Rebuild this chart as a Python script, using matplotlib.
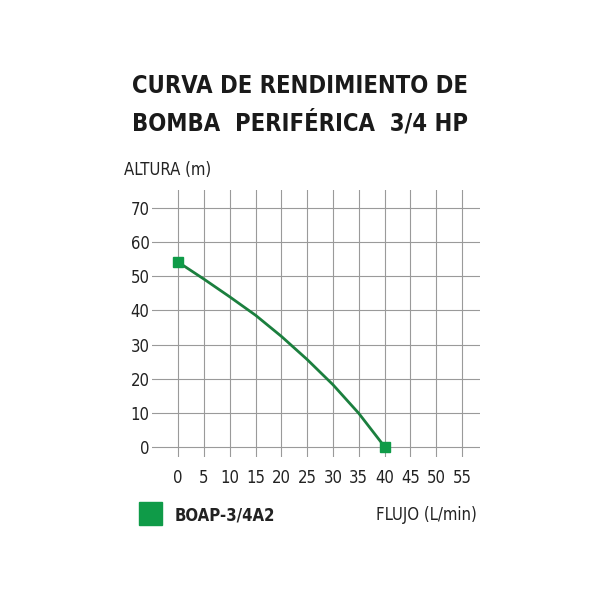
import matplotlib
matplotlib.use("Agg")
import matplotlib.pyplot as plt

# curve: flow (L/min) vs head (m)
flujo = [0, 5, 10, 15, 20, 25, 30, 35, 40]
altura = [54.2, 49.2, 44.0, 38.6, 32.4, 25.6, 18.2, 9.8, 0]
marca_x = [0, 40]
marca_y = [54.2, 0]

x_ticks = list(range(0, 60, 5))
y_ticks = list(range(0, 80, 10))

titulo = "CURVA DE RENDIMIENTO DE\nBOMBA  PERIFÉRICA  3/4 HP"
modelo = "BOAP-3/4A2"

fam = "DejaVu Sans"
verde = "#0f9b48"
linea = "#1b7f3e"

fig = plt.figure(figsize=(6, 6), dpi=100)
ax = fig.add_axes([0.254, 0.2385, 0.546, 0.4455])
ax.set_xlim(-5, 58.5)
ax.set_ylim(-3, 75.5)
ax.set_xticks(x_ticks)
ax.set_yticks(y_ticks)
ax.grid(True, color="#9a9a9a", linewidth=0.8)
ax.tick_params(length=0)
ax.tick_params(axis="y", pad=2)
ax.tick_params(axis="x", pad=9)
for lab in ax.get_xticklabels() + ax.get_yticklabels():
    lab.set_family(fam)
    lab.set_stretch("condensed")
    lab.set_fontsize(12)
    lab.set_color("#222222")
for s in ax.spines.values():
    s.set_visible(False)

ax.plot(flujo, altura, color=linea, lw=2.0, zorder=3)
ax.plot(marca_x, marca_y, ls="none", marker="s", ms=7, color=verde, zorder=4)

fig.text(0.5, 1 - 105 / 600, titulo, ha="center", va="center", family=fam,
         stretch="condensed", fontweight="bold", fontsize=17,
         color="#1a1a1a", linespacing=1.6)
fig.text(124 / 600, 1 - 170 / 600, "ALTURA (m)", ha="left", va="center",
         family=fam, stretch="condensed", fontsize=12, color="#222222")

fig.patches.append(plt.Rectangle((139 / 600, 1 - 525 / 600), 23 / 600, 23 / 600,
                                 transform=fig.transFigure, color=verde))
fig.text(175 / 600, 1 - 515 / 600, modelo, ha="left", va="center", family=fam,
         stretch="condensed", fontweight="bold", fontsize=12, color="#222222")
fig.text(477 / 600, 1 - 515 / 600, "FLUJO (L/min)", ha="right", va="center",
         family=fam, stretch="condensed", fontsize=12, color="#222222")

fig.savefig("out.png", dpi=100, facecolor="white")
